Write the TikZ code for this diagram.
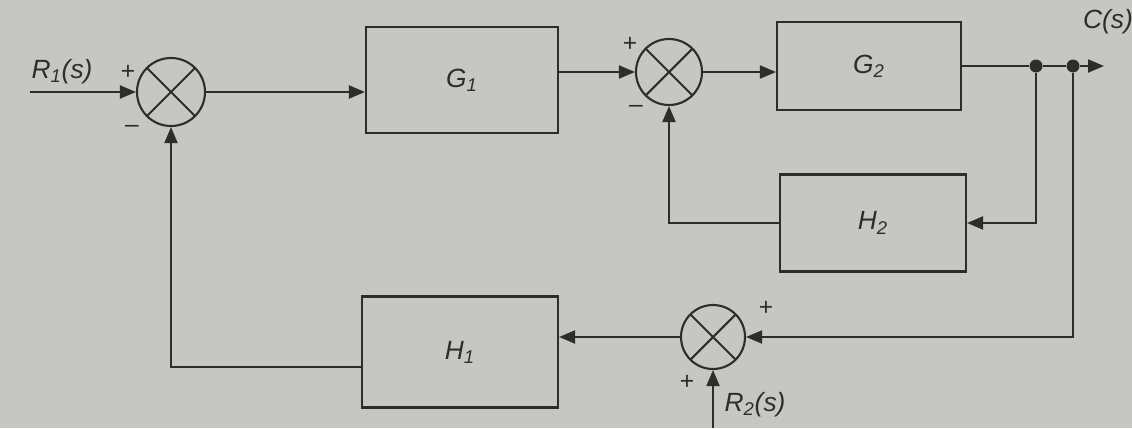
\documentclass[tikz,border=0pt]{standalone}
\usepackage{fontspec}
\setmainfont{Liberation Sans}
\usepackage{tikz}
\usetikzlibrary{arrows.meta, positioning, calc}
\definecolor{mydark}{RGB}{45,45,44}
\definecolor{mypaper}{RGB}{198,198,194}
\tikzset{
  block/.style={rectangle, draw=mydark, line width=1.2pt,
    font=\fontsize{15}{18}\selectfont\itshape, text=mydark},
  sumnode/.style={circle, draw=mydark, line width=1.2pt, inner sep=0pt,
    path picture={\draw[mydark, line width=1.2pt]
      (path picture bounding box.north west) -- (path picture bounding box.south east)
      (path picture bounding box.south west) -- (path picture bounding box.north east);}},
  sign/.style={font=\fontsize{14}{16}\selectfont, text=mydark},
  siglabel/.style={font=\fontsize{15}{18}\selectfont\itshape, text=mydark},
  dotnode/.style={circle, fill=mydark, inner sep=0pt, minimum size=0.26cm},
  arrow/.style={-{Triangle[length=0.32cm, width=0.26cm]}, line width=1.2pt, color=mydark},
  line/.style={line width=1.2pt, color=mydark}
}

\begin{document}
\begin{tikzpicture}
  \fill[mypaper] (0,0) rectangle (22.64,8.56);
  \useasboundingbox (0,0) rectangle (22.64,8.56);

  % forward path
  \coordinate (rin) at (0.6,6.72);
  \node[sumnode, minimum size=1.36cm] (s1) at (3.42,6.72) {};
  \node[block, minimum width=3.84cm, minimum height=2.12cm] (G1) at (9.24,6.96) {G\textsubscript{1}};
  \node[sumnode, minimum size=1.32cm] (s2) at (13.38,7.12) {};
  \node[block, minimum width=3.68cm, minimum height=1.76cm] (G2) at (17.38,7.24) {G\textsubscript{2}};
  \node[dotnode] (d1) at (20.72,7.24) {};
  \node[dotnode] (d2) at (21.46,7.24) {};
  \coordinate (cout) at (22.08,7.24);

  % feedback blocks
  \node[block, minimum width=3.72cm, minimum height=1.94cm] (H2) at (17.46,4.10) {H\textsubscript{2}};
  \node[sumnode, minimum size=1.28cm] (s3) at (14.26,1.82) {};
  \node[block, minimum width=3.92cm, minimum height=2.22cm] (H1) at (9.20,1.52) {H\textsubscript{1}};
  \coordinate (r2in) at (14.26,0);

  \draw[arrow] (rin) -- (s1);
  \draw[arrow] (s1) -- (s1 -| G1.west);
  \draw[arrow] (G1.east |- s2) -- (s2);
  \draw[arrow] (s2) -- (s2 -| G2.west);
  \draw[line] (G2) -- (d1) -- (d2);
  \draw[arrow] (d2) -- (cout);

  \draw[arrow] (d1) |- (H2);
  \draw[arrow] (H2) -| (s2);
  \draw[arrow] (d2) |- (s3);
  \draw[arrow] (s3) -- (s3 -| H1.east);
  \draw[arrow] ($(H1.west)+(0,-0.3)$) -| (s1);
  \draw[arrow] (r2in) -- (s3);

  % labels
  \node[siglabel] (lr1) at (1.24,7.12) {R\textsubscript{1}(s)};
  \node[siglabel] (lc) at (22.16,8.12) {C(s)};
  \node[siglabel] (lr2) at (15.1,0.46) {R\textsubscript{2}(s)};
  \node[sign] (p1) at (2.56,7.12) {+};
  \node[sign] (m1) at (2.64,5.98) {\textendash};
  \node[sign] (p2) at (12.6,7.68) {+};
  \node[sign] (m2) at (12.72,6.38) {\textendash};
  \node[sign] (p3) at (15.32,2.4) {+};
  \node[sign] (p4) at (13.74,0.92) {+};
\end{tikzpicture}
\end{document}
